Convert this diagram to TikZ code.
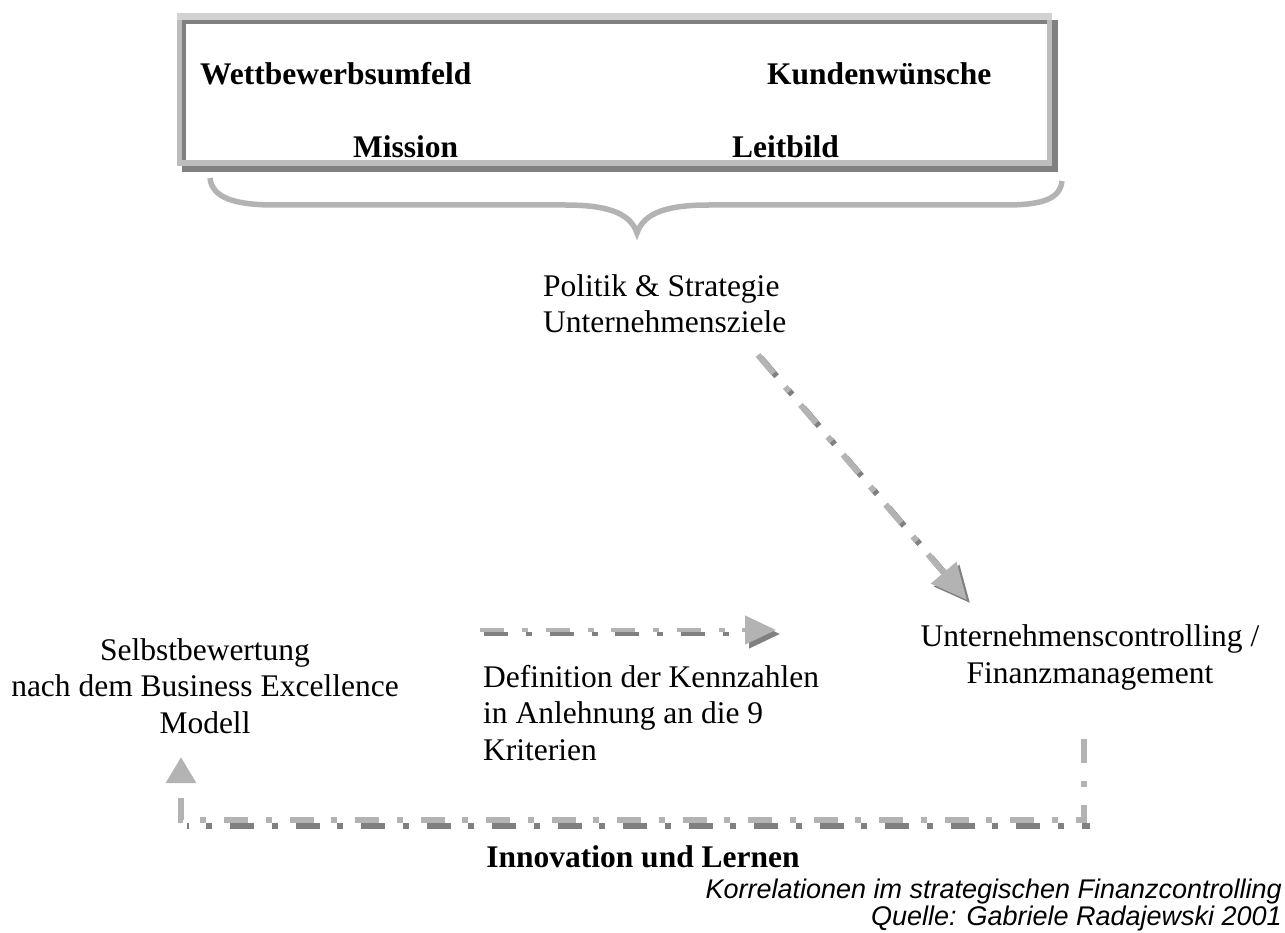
\documentclass[tikz,border=0pt]{standalone}
\usepackage{fontspec}
\setmainfont{Liberation Serif}
\newfontfamily\capfont{Liberation Sans}
\usetikzlibrary{arrows.meta}

\definecolor{lightgr}{HTML}{B3B3B3}
\definecolor{darkgr}{HTML}{808080}
\definecolor{framegr}{HTML}{BCBCBC}
\definecolor{frametop}{HTML}{D2D2D2}

\begin{document}
\begin{tikzpicture}[x=1pt,y=-1pt,
  txt/.style={inner sep=0pt, font=\fontsize{31.5}{36.4}\selectfont},
  boldtxt/.style={inner sep=0pt, font=\fontsize{31.5}{36.4}\selectfont\bfseries},
  captxt/.style={inner sep=0pt, font=\fontsize{27}{27}\selectfont\capfont\itshape},
  brace/.style={draw=lightgr, line width=5.5pt},
  dashdot/.style={dash pattern=on 24pt off 18pt on 6pt off 17.5pt},
  flow/.style={dashdot, draw=lightgr, line width=6pt},
  flowshadow/.style={dashdot, draw=darkgr, line width=6pt},
]
\useasboundingbox (0,0) rectangle (1285,933);

% bevelled frame around the four influencing factors
\fill[darkgr] (182,20) rectangle (1058,172);
\fill[framegr] (177,13) rectangle (1052,166);
\fill[frametop] (177,13) rectangle (1052,20);
\fill[darkgr] (182,20) rectangle (1047,160);
\fill[white] (186,24) rectangle (1047,160);

\node[boldtxt, anchor=base west] (wett)    at (200,85)  {Wettbewerbsumfeld};
\node[boldtxt, anchor=base west] (kunden)  at (767,85)  {Kundenwünsche};
\node[boldtxt, anchor=base west] (mission) at (353,158) {Mission};
\node[boldtxt, anchor=base west] (leit)    at (732,158) {Leitbild};

% curly brace collecting the factors
\draw[brace] (210,178) .. controls (212,198) and (235,205) .. (275,205)
  -- (565,205) .. controls (605,205) and (630,212) .. (637,233)
  .. controls (644,212) and (669,205) .. (709,205)
  -- (1005,205) .. controls (1045,205) and (1060,198) .. (1062,181);

% text blocks (base anchor = baseline of the last line)
\node[txt, align=left, anchor=base west] (politik) at (543,333)
  {Politik \& Strategie\\Unternehmensziele};
\node[txt, align=center, anchor=base] (ctrl) at (1090,683)
  {Unternehmenscontrolling /\\Finanzmanagement};
\node[txt, align=center, anchor=base] (selbst) at (205,733)
  {Selbstbewertung\\nach dem Business Excellence\\Modell};
\node[txt, align=left, anchor=base west] (def) at (483,760)
  {Definition der Kennzahlen\\in Anlehnung an die 9\\Kriterien};
\node[boldtxt, anchor=base] (innov) at (643,867) {Innovation und Lernen};
\node[captxt, align=right, anchor=base east] (cap) at (1282,925)
  {Korrelationen im strategischen Finanzcontrolling\\Quelle: Gabriele Radajewski 2001};

% connector end points
\coordinate (d1) at (758,355);
\coordinate (d2) at (967,600);
\coordinate (h1) at (480,630);
\coordinate (h2) at (776,630);
\coordinate (l1) at (1084,739);
\coordinate (l2) at (1084,820);
\coordinate (l3) at (181,820);
\coordinate (l4) at (181,757);

% strategy -> controlling
\draw[flowshadow, -{Triangle[length=36pt,width=32pt]}]
  ([shift={(3,3)}]d1) -- ([shift={(3,3)}]d2);
\draw[flow, -{Triangle[length=36pt,width=32pt]}] (d1) -- (d2);

% definition of key figures
\draw[flowshadow, line width=4.5pt, -{Triangle[length=31pt,width=28pt]}]
  ([shift={(4,4)}]h1) -- ([shift={(4,4)}]h2);
\draw[flow, line width=4.5pt, -{Triangle[length=31pt,width=28pt]}] (h1) -- (h2);

% feedback loop: controlling -> self assessment
\draw[flowshadow, dash phase=15.5pt] ([shift={(6,6)}]l2) -- ([shift={(6,6)}]l3);
\draw[flow, -{Triangle[length=26pt,width=29pt]}] (l1) -- (l2) -- (l3) -- (l4);

\end{tikzpicture}
\end{document}
